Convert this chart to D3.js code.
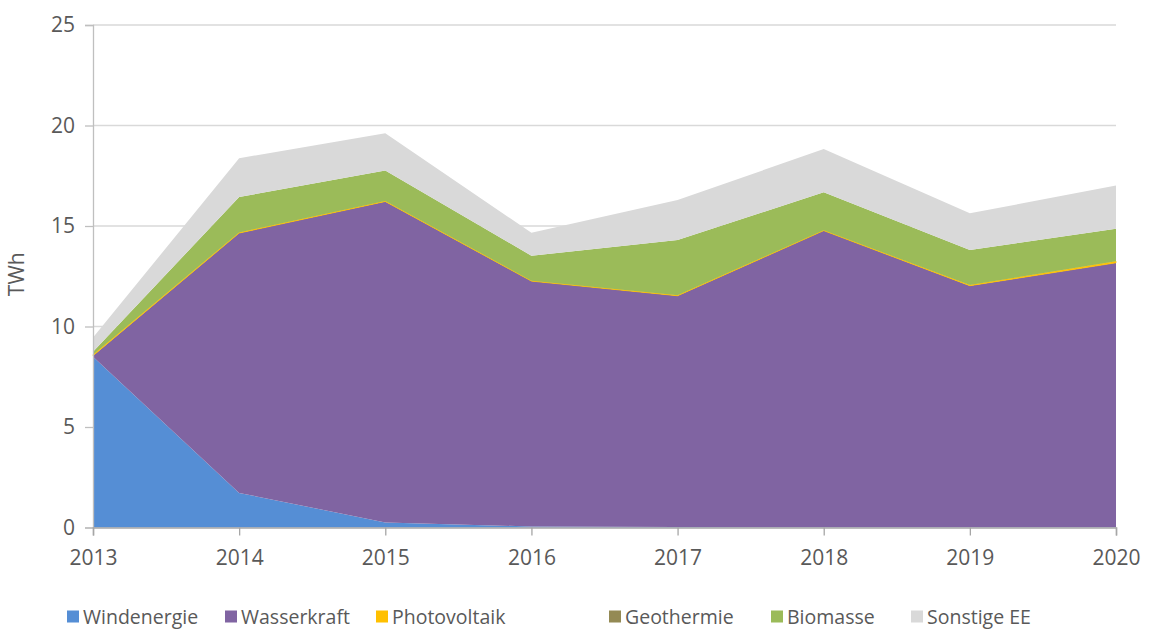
<!DOCTYPE html>
<html>
<head>
<meta charset="utf-8">
<script src="https://cdn.jsdelivr.net/npm/d3@7"></script>
<style>
  body { margin: 0; background: #fff; }
  svg text { font-family: "Open Sans", "Noto Sans", sans-serif; }
</style>
</head>
<body>
<div id="chart"></div>
<script>
var WIDTH = 1151;
var HEIGHT = 630;

// data (TWh)
var years = [2013, 2014, 2015, 2016, 2017, 2018, 2019, 2020];
var windenergie = [8.5, 1.72, 0.25, 0.05, 0.02, 0.01, 0.01, 0.01];
var wasserkraft = [0.05, 12.93, 15.97, 12.21, 11.51, 14.76, 12.02, 13.16];
var photovoltaik = [0.05, 0.03, 0.02, 0.02, 0.02, 0.02, 0.03, 0.08];
var geothermie = [0, 0, 0, 0, 0, 0, 0, 0];
var biomasse = [0.15, 1.76, 1.52, 1.24, 2.75, 1.89, 1.75, 1.61];
var sonstige = [0.7, 1.93, 1.86, 1.14, 1.99, 2.15, 1.82, 2.15];

var seriesNames = ["Windenergie", "Wasserkraft", "Photovoltaik", "Geothermie", "Biomasse", "Sonstige EE"];
var seriesValues = [windenergie, wasserkraft, photovoltaik, geothermie, biomasse, sonstige];
var colors = ["#558ed5", "#8064a2", "#ffc000", "#948a54", "#9bbb59", "#d9d9d9"];
var yTicks = [0, 5, 10, 15, 20, 25];

var rows = years.map(function(y, i) {
    var r = { year: y };
    seriesNames.forEach(function(n, k) { r[n] = seriesValues[k][i]; });
    return r;
});

var margin = { left: 93, right: 35, top: 25, bottom: 102.5 };

var svg = d3.select("#chart").append("svg")
    .attr("width", WIDTH)
    .attr("height", HEIGHT);

var x = d3.scaleLinear()
    .domain([2013, 2020])
    .range([margin.left, WIDTH - margin.right]);

var y = d3.scaleLinear()
    .domain([0, 25])
    .range([HEIGHT - margin.bottom, margin.top]);

// gridlines
svg.append("g")
    .selectAll("line")
    .data(yTicks.filter(function(d) { return d > 0; }))
    .enter().append("line")
    .attr("x1", x(2013)).attr("x2", x(2020))
    .attr("y1", function(d) { return y(d); })
    .attr("y2", function(d) { return y(d); })
    .attr("stroke", "#d9d9d9")
    .attr("stroke-width", 1.3);

// stacked areas
var stack = d3.stack().keys(seriesNames);
var layers = stack(rows);

var area = d3.area()
    .x(function(d) { return x(d.data.year); })
    .y0(function(d) { return y(d[0]); })
    .y1(function(d) { return y(d[1]); });

svg.append("g")
    .selectAll("path")
    .data(layers)
    .enter().append("path")
    .attr("d", area)
    .attr("fill", function(d, i) { return colors[i]; })
    .attr("stroke", function(d, i) { return i === 2 ? colors[i] : "none"; })
    .attr("stroke-width", 0.8);

// y axis
var yAxis = d3.axisLeft(y).tickValues(yTicks).tickSize(8).tickPadding(10);
var gy = svg.append("g")
    .attr("transform", "translate(" + x(2013) + ",0)")
    .call(yAxis)
    .attr("font-family", null);
gy.select(".domain").attr("stroke", "#bfbfbf").attr("stroke-width", 1.3);
gy.selectAll(".tick line").attr("stroke", "#bfbfbf").attr("stroke-width", 1.3);
gy.selectAll(".tick text")
    .attr("fill", "#595959")
    .style("font-size", "21px");

// x axis
var xAxis = d3.axisBottom(x).tickValues(years).tickFormat(d3.format("d")).tickSize(8).tickPadding(15);
var gx = svg.append("g")
    .attr("transform", "translate(0," + y(0) + ")")
    .call(xAxis)
    .attr("font-family", null);
gx.select(".domain").attr("stroke", "#a6a6a6").attr("stroke-width", 1.5);
gx.selectAll(".tick line").attr("stroke", "#a6a6a6").attr("stroke-width", 1.3);
gx.selectAll(".tick text")
    .attr("fill", "#595959")
    .style("font-size", "21px");

// y axis title
svg.append("text")
    .attr("transform", "translate(24," + y(12.6) + ") rotate(-90)")
    .attr("text-anchor", "middle")
    .attr("fill", "#595959")
    .style("font-size", "21px")
    .text("TWh");

// legend
var legendX = [67, 225, 376, 609, 771, 911];
var legend = svg.append("g")
    .selectAll("g")
    .data(seriesNames)
    .enter().append("g")
    .attr("transform", function(d, i) { return "translate(" + legendX[i] + ",617)"; });

legend.append("rect")
    .attr("x", 0).attr("y", -6.5)
    .attr("width", 12).attr("height", 12)
    .attr("fill", function(d, i) { return colors[i]; });

legend.append("text")
    .attr("x", 16)
    .attr("dy", "0.35em")
    .attr("fill", "#595959")
    .style("font-size", "19.5px")
    .text(function(d) { return d; });
</script>
</body>
</html>
